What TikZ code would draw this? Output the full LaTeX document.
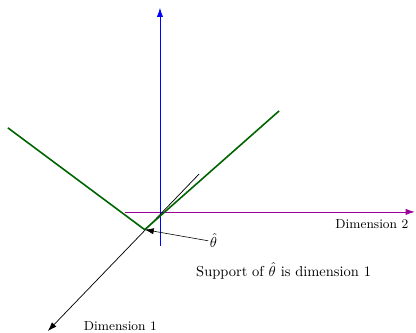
\documentclass[tikz,border=0pt]{standalone}
\usepackage{amsmath}
\usepackage{tikz}
\usetikzlibrary{arrows.meta}
\definecolor{dunkelgruen}{HTML}{006400}
\definecolor{lila}{HTML}{990099}
\tikzset{
  achse/.style={-{Latex[length=2.2mm,width=1.5mm]},line width=0.5pt},
  kante/.style={dunkelgruen,line width=1.1pt},
  zeiger/.style={-{Latex[length=2.2mm,width=1.5mm]},line width=0.4pt},
  beschr/.style={inner sep=1pt},
}
\begin{document}
\begin{tikzpicture}
  \useasboundingbox (-3.88,-2.93) rectangle (6.21,5.14);
  % Achsen
  \coordinate (ulinks) at (-0.85,0);
  \coordinate (urechts) at (6.18,0);
  \coordinate (unten) at (0,-0.82);
  \coordinate (oben) at (0,4.95);
  \coordinate (dstart) at (0.95,0.92);
  \coordinate (dend) at (-2.72,-2.89);
  \draw[achse,lila] (ulinks)--(urechts);
  \draw[achse,blue] (unten)--(oben);
  \draw[achse,black] (dstart)--(dend);
  % Rand
  \coordinate (links) at (-3.69,2.04);
  \coordinate (ecke) at (-0.37,-0.43);
  \coordinate (rechts) at (2.89,2.45);
  \draw[kante] (links)--(ecke)--(rechts);
  % Beschriftungen
  \node[beschr] (dimzwei) at (5.14,-0.29) {\small Dimension 2};
  \node[beschr] (dimeins) at (-0.96,-2.76) {\small Dimension 1};
  \node[beschr] (theta) at (1.3,-0.7) {$\hat{\theta}$};
  \node[beschr] (support) at (3.0,-1.43) {Support of $\hat{\theta}$ is dimension 1};
  \draw[zeiger] (theta.west)--(ecke);
\end{tikzpicture}
\end{document}
